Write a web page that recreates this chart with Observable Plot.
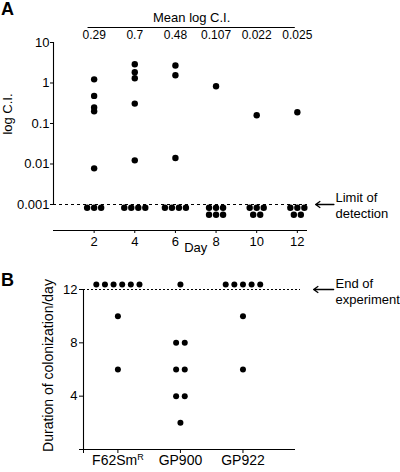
<!DOCTYPE html>
<html><head><meta charset="utf-8">
<script src="https://cdn.jsdelivr.net/npm/d3@7"></script>
<script src="https://cdn.jsdelivr.net/npm/@observablehq/plot@0.6"></script>
<style>
body{margin:0;background:#fff;}
#wrap{position:relative;width:400px;height:472px;overflow:hidden;font-family:"Liberation Sans",Arial,sans-serif;background:#fff;}
.panel{position:absolute;left:0;}
.lab{position:absolute;font-weight:bold;font-size:18px;line-height:18px;color:#000;}
</style></head><body>
<div id="wrap">
  <div id="pa" class="panel" style="top:0"></div>
  <div id="pb" class="panel" style="top:262px"></div>
  <div class="lab" style="left:1px;top:0px">A</div>
  <div class="lab" style="left:1px;top:271px">B</div>
</div>
<script>
// ---------- Panel A data ----------
const days = [2, 4, 6, 8, 10, 12];
const meanLogCI = ["0.29", "0.7", "0.48", "0.107", "0.022", "0.025"];
const ciDay2 = [1.23, 0.48, 0.25, 0.20, 0.0078];
const ciDay4 = [2.9, 1.85, 1.31, 0.31, 0.0123];
const ciDay6 = [2.7, 1.56, 0.0141];
const ciDay8 = [0.83];
const ciDay10 = [0.16];
const ciDay12 = [0.19];
const belowLimitCounts = [3, 4, 4, 6, 5, 5];
const yTicksA = [10, 1, 0.1, 0.01, 0.001];
const limitOfDetection = 0.001;

// ---------- Panel B data ----------
const strains = ["F62SmR", "GP900", "GP922"];
const durF62SmR = [12, 12, 12, 12, 12, 12, 10, 6];
const durGP900 = [12, 8, 8, 6, 6, 4, 4, 2];
const durGP922 = [12, 12, 12, 12, 12, 10, 6];
const yTicksB = [0, 4, 8, 12];
const endOfExperiment = 12;

const FONT = '"Liberation Sans", Arial, Helvetica, sans-serif';

// ---------- build tables ----------
const ciByDay = [ciDay2, ciDay4, ciDay6, ciDay8, ciDay10, ciDay12];
const detected = days.flatMap((d, i) => ciByDay[i].map(v => ({day: d, ci: v})));
const undetected = [];
days.forEach((d, i) => {
  const n = belowLimitCounts[i];
  const perRow = n > 4 ? 3 : n;
  for (let k = 0; k < n; k++) {
    const row = Math.floor(k / perRow), col = k % perRow;
    const inRow = Math.min(perRow, n - row * perRow);
    undetected.push({day: d, row, x: d + (col - (inRow - 1) / 2) * 0.345});
  }
});

const durByStrain = [durF62SmR, durGP900, durGP922];
const colonization = [];
strains.forEach((s, i) => {
  const groups = d3.group(durByStrain[i], v => v);
  for (const [v, arr] of groups) {
    arr.forEach((_, j) => colonization.push({strain: s, dur: v, x: i + 1 + (j - (arr.length - 1) / 2) * 0.138}));
  }
});

// ---------- Panel A ----------
const xMaxA = 12.5;
const yMinA = 0.000228;
const plotA = Plot.plot({
  width: 400, height: 262,
  marginLeft: 53, marginRight: 93, marginTop: 42, marginBottom: 32,
  x: {domain: [0, xMaxA]},
  y: {type: "log", domain: [yMinA, 10]},
  style: {fontFamily: FONT, fontSize: "13px", color: "#000", background: "transparent", overflow: "visible"},
  marks: [
    Plot.ruleX([0], {y1: limitOfDetection, y2: 10, strokeWidth: 1.1}),
    Plot.axisY({ticks: yTicksA, tickFormat: d => String(d), tickSize: 3, tickPadding: 1, label: null, fontSize: 13}),
    Plot.ruleY([yMinA], {x1: 0, x2: xMaxA, strokeWidth: 1.1}),
    Plot.axisX({ticks: days, tickSize: 3, tickPadding: 3, label: null, fontSize: 13}),
    Plot.text(["Day"], {x: (days[0] + days[days.length - 1]) / 2, frameAnchor: "bottom", dy: 21, fontSize: 13}),
    Plot.text(["log C.I."], {y: Math.sqrt(limitOfDetection * 10), frameAnchor: "left", textAnchor: "middle", rotate: -90, dx: -46, dy: -9.5, fontSize: 13}),
    // header
    Plot.text(meanLogCI, {x: (d, i) => days[i], y: 10, text: d => d, dy: -7, fontSize: 12}),
    Plot.ruleY([10], {x1: days[0] - 0.3, x2: days[days.length - 1] - 0.1, dy: -15, strokeWidth: 1.1}),
    Plot.text(["Mean log C.I."], {x: (days[0] + days[days.length - 1]) / 2 - 0.2, y: 10, dy: -25, fontSize: 13}),
    // limit of detection
    Plot.ruleY([limitOfDetection], {x1: 0, x2: xMaxA, strokeDasharray: "3,3", strokeWidth: 1.1}),
    Plot.arrow([limitOfDetection], {x1: xMaxA + 1.3, x2: xMaxA + 0.4, y1: d => d, y2: d => d, headLength: 6, headAngle: 70, strokeWidth: 1.3}),
    Plot.text([limitOfDetection], {x: xMaxA, y: d => d, text: () => "Limit of\ndetection", textAnchor: "start", lineAnchor: "middle", dx: 28, lineHeight: 1.28, fontSize: 13}),
    // dots
    Plot.dot(detected, {x: "day", y: "ci", r: 3.2, fill: "#000", stroke: "none"}),
    Plot.dot(undetected.filter(d => d.row === 0), {x: "x", y: () => limitOfDetection, dy: 3.3, r: 3.2, fill: "#000", stroke: "none"}),
    Plot.dot(undetected.filter(d => d.row === 1), {x: "x", y: () => limitOfDetection, dy: 10.3, r: 3.2, fill: "#000", stroke: "none"})
  ]
});
document.getElementById("pa").appendChild(plotA);

// ---------- Panel B ----------
const xMinB = 0.45, xMaxB = 3.84;
const plotB = Plot.plot({
  width: 400, height: 210,
  marginLeft: 83, marginRight: 105, marginTop: 27, marginBottom: 23,
  x: {domain: [xMinB, xMaxB]},
  y: {domain: [0, 12]},
  style: {fontFamily: FONT, fontSize: "13px", color: "#000", background: "transparent", overflow: "visible"},
  marks: [
    Plot.ruleX([xMinB], {y1: 0, y2: endOfExperiment, strokeWidth: 1.1}),
    Plot.axisY({ticks: yTicksB, tickFormat: d => d === 0 ? "" : String(d), tickSize: 4, tickPadding: 2, label: null, fontSize: 13}),
    Plot.ruleY([0], {x1: xMinB, x2: xMaxB, strokeWidth: 1.1}),
    Plot.axisX({ticks: [xMinB, 1, 2, 3], tickFormat: d => Number.isInteger(d) ? strains[d - 1] : "", tickSize: 4, tickPadding: 2, label: null, fontSize: 14}),
    Plot.text(["Duration of colonization/day"], {y: endOfExperiment / 2, frameAnchor: "left", textAnchor: "middle", rotate: -90, dx: -35, dy: -4, fontSize: 14}),
    Plot.ruleY([endOfExperiment], {x1: xMinB, x2: xMaxB + 0.08, strokeDasharray: "2,2", strokeWidth: 1}),
    Plot.arrow([endOfExperiment], {x1: xMaxB + 0.61, x2: xMaxB + 0.29, y1: d => d, y2: d => d, headLength: 6, headAngle: 70, strokeWidth: 1.3}),
    Plot.text([endOfExperiment], {x: xMaxB, y: d => d, text: () => "End of\nexperiment", textAnchor: "start", lineAnchor: "middle", dx: 40, dy: 1, lineHeight: 1.22, fontSize: 13}),
    Plot.dot(colonization.filter(d => d.dur === endOfExperiment), {x: "x", y: "dur", dy: -5, r: 3, fill: "#000", stroke: "none"}),
    Plot.dot(colonization.filter(d => d.dur !== endOfExperiment), {x: "x", y: "dur", r: 3, fill: "#000", stroke: "none"})
  ]
});
// superscript R on strain label
plotB.querySelectorAll("text").forEach(t => {
  if (t.textContent === "F62SmR") {
    t.textContent = "F62Sm";
    const ts = document.createElementNS("http://www.w3.org/2000/svg", "tspan");
    ts.textContent = "R";
    ts.setAttribute("font-size", "9");
    ts.setAttribute("dy", "-5");
    t.appendChild(ts);
  }
});
document.getElementById("pb").appendChild(plotB);
</script>
</body></html>
